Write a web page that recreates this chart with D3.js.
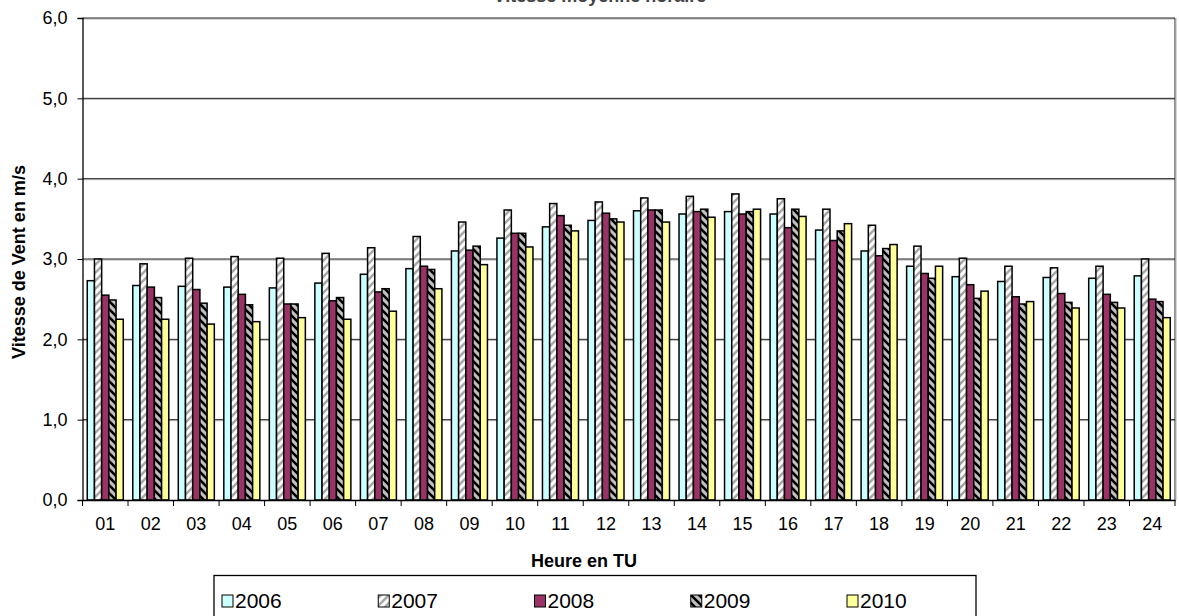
<!DOCTYPE html>
<html><head><meta charset="utf-8">
<script src="https://cdn.jsdelivr.net/npm/d3@7"></script>
<style>body{margin:0;background:#fff}svg{display:block;font-family:"Liberation Sans",Arial,sans-serif}</style>
</head><body>
<svg id="c" width="1179" height="616"></svg>
<script>
const hours = ["01","02","03","04","05","06","07","08","09","10","11","12","13","14","15","16","17","18","19","20","21","22","23","24"];
const years = ["2006","2007","2008","2009","2010"];
const v2006 = [2.73,2.67,2.66,2.65,2.64,2.70,2.81,2.88,3.10,3.26,3.40,3.48,3.60,3.56,3.59,3.56,3.36,3.10,2.91,2.78,2.72,2.77,2.76,2.79];
const v2007 = [3.00,2.94,3.01,3.03,3.01,3.07,3.14,3.28,3.46,3.61,3.69,3.71,3.76,3.78,3.81,3.75,3.62,3.42,3.16,3.01,2.91,2.89,2.91,3.00];
const v2008 = [2.55,2.65,2.62,2.56,2.44,2.48,2.59,2.91,3.11,3.32,3.54,3.57,3.61,3.59,3.56,3.39,3.23,3.04,2.82,2.68,2.53,2.57,2.56,2.50];
const v2009 = [2.49,2.52,2.45,2.43,2.44,2.52,2.63,2.87,3.16,3.32,3.42,3.50,3.61,3.62,3.59,3.62,3.35,3.13,2.76,2.51,2.44,2.46,2.46,2.47];
const v2010 = [2.25,2.25,2.19,2.22,2.27,2.25,2.35,2.63,2.93,3.15,3.35,3.46,3.46,3.52,3.62,3.53,3.44,3.18,2.91,2.60,2.47,2.39,2.39,2.27];
const yTicks = [0,1,2,3,4,5,6];
const series = [v2006,v2007,v2008,v2009,v2010];
const fills = ["#CCFFFF","url(#p2007)","#993366","url(#p2009)","#FFFF99"];

const svg = d3.select("#c");
const L = 82.5, R = 1175, T = 18, B = 500;

const defs = svg.append("defs");
const p7 = defs.append("pattern").attr("id","p2007").attr("patternUnits","userSpaceOnUse").attr("width",8).attr("height",8);
p7.append("rect").attr("width",8).attr("height",8).attr("fill","#fff");
p7.append("path").attr("d","M-2,10 L10,-2 M-2,2 L2,-2 M6,10 L10,6").attr("stroke","#a8a8a8").attr("stroke-width",2.6);
const p9 = defs.append("pattern").attr("id","p2009").attr("patternUnits","userSpaceOnUse").attr("width",8).attr("height",8);
p9.append("rect").attr("width",8).attr("height",8).attr("fill","#c0c0c0");
p9.append("path").attr("d","M-2,-2 L10,10 M-2,6 L2,10 M6,-2 L10,2").attr("stroke","#000").attr("stroke-width",2.6);

const y = d3.scaleLinear().domain([0,6]).range([B,T]);
const x = d3.scaleBand().domain(hours).range([L,R]).padding(0);
const xs = d3.scaleBand().domain(years).range([4.75, x.bandwidth()-4.75]).padding(0);

// gridlines
svg.append("g").selectAll("line").data(yTicks.filter(d=>d>0)).join("line")
  .attr("x1",L).attr("x2",R).attr("y1",d=>y(d)+1).attr("y2",d=>y(d)+1)
  .attr("stroke","#b0b0b0").attr("stroke-width",1);
svg.append("g").selectAll("line").data(yTicks.filter(d=>d>0)).join("line")
  .attr("x1",L).attr("x2",R).attr("y1",d=>y(d)).attr("y2",d=>y(d))
  .attr("stroke","#222").attr("stroke-width",1);
// right border
svg.append("line").attr("x1",R).attr("x2",R).attr("y1",T).attr("y2",B).attr("stroke","#222");
svg.append("line").attr("x1",R+1).attr("x2",R+1).attr("y1",T).attr("y2",B).attr("stroke","#b0b0b0");

// bars
const g = svg.append("g");
years.forEach((yr,i)=>{
  g.append("g").selectAll("rect").data(series[i]).join("rect")
    .attr("x",(d,j)=>x(hours[j])+xs(yr))
    .attr("y",d=>y(d))
    .attr("width",xs.bandwidth())
    .attr("height",d=>B-y(d))
    .attr("fill",fills[i]).attr("stroke","#000").attr("stroke-width",1.5);
});

// axes
const yAxis = d3.axisLeft(y).tickValues(yTicks).tickSize(5).tickFormat(d=>d3.format(".1f")(d).replace(".",","));
const ya = svg.append("g").attr("transform",`translate(${L},0)`).call(yAxis);
ya.select(".domain").attr("stroke","#000").attr("stroke-width",1.3);
ya.selectAll(".tick line").attr("stroke","#000");
ya.selectAll("text").attr("font-size",18).attr("fill","#000").attr("x",-15).attr("font-family","Liberation Sans, Arial, sans-serif");

const xAxis = d3.axisBottom(x).tickSize(0).tickPadding(17);
const xa = svg.append("g").attr("transform",`translate(0,${B})`).call(xAxis);
xa.select(".domain").attr("stroke","#000").attr("stroke-width",1.3);
xa.selectAll("text").attr("font-size",18).attr("fill","#000").attr("font-family","Liberation Sans, Arial, sans-serif");
// tick marks between groups
xa.append("g").selectAll("line").data(hours.concat(["end"])).join("line")
  .attr("x1",(d,i)=>L+i*x.bandwidth()).attr("x2",(d,i)=>L+i*x.bandwidth())
  .attr("y1",0).attr("y2",6).attr("stroke","#000");

// titles
svg.append("text").attr("x",600).attr("y",2).attr("text-anchor","middle")
  .attr("font-weight","bold").attr("font-size",18).attr("fill","#444").text("Vitesse moyenne horaire");
svg.append("text").attr("x",584).attr("y",567).attr("text-anchor","middle")
  .attr("font-weight","bold").attr("font-size",18).text("Heure en TU");
svg.append("text").attr("transform",`translate(25,${(T+B)/2+3}) rotate(-90)`).attr("text-anchor","middle")
  .attr("font-weight","bold").attr("font-size",18).text("Vitesse de Vent en m/s");

// legend
const lg = svg.append("g");
lg.append("rect").attr("x",214).attr("y",575.5).attr("width",762).attr("height",60)
  .attr("fill","#fff").attr("stroke","#000").attr("stroke-width",1.3);
const lx = d3.scalePoint().domain(years).range([222,847]);
years.forEach((yr,i)=>{
  lg.append("rect").attr("x",lx(yr)).attr("y",595).attr("width",11).attr("height",12)
    .attr("fill",fills[i]).attr("stroke","#000").attr("stroke-width",1);
  lg.append("text").attr("x",lx(yr)+13).attr("y",608).attr("font-size",21).text(yr);
});
</script>
</body></html>
